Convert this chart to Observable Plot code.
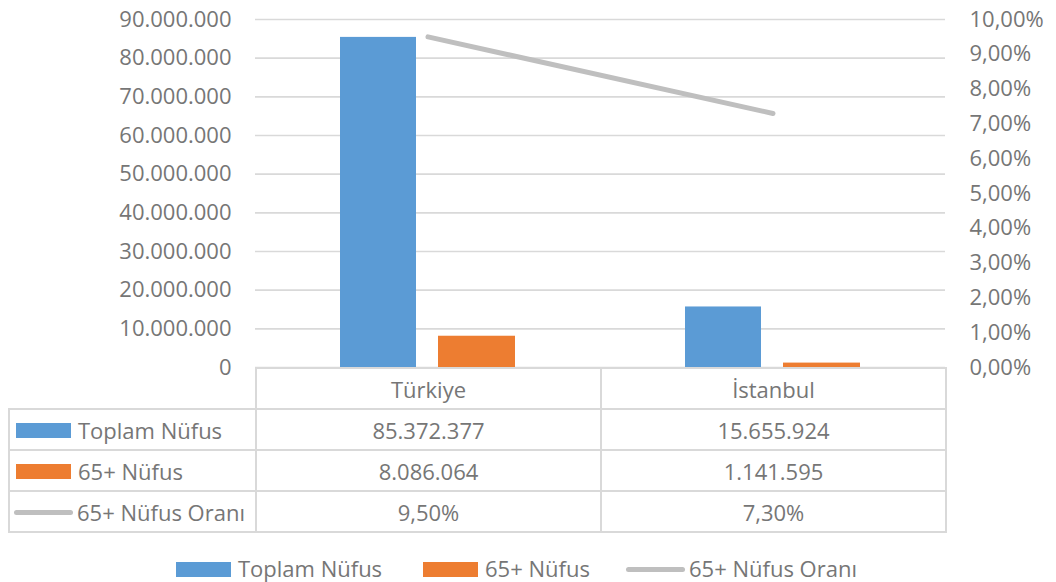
<!DOCTYPE html>
<html><head><meta charset="utf-8">
<script src="https://cdn.jsdelivr.net/npm/d3@7"></script>
<script src="https://cdn.jsdelivr.net/npm/@observablehq/plot@0.6"></script>
<style>
body{margin:0;background:#fff;}
#wrap{position:relative;width:1056px;height:582px;font-family:"Open Sans",sans-serif;color:#767676;}
#chart{position:absolute;left:0;top:0;}
table{position:absolute;left:8px;top:367px;border-collapse:collapse;font-size:22px;}
td{border:2px solid #D9D9D9;height:39px;padding:0;text-align:center;vertical-align:middle;white-space:nowrap;box-sizing:border-box;}
tr{height:41px;}
td.lab{text-align:left;width:247px;}
td.val{width:345px;}
td.blank{border-top:hidden;border-left:hidden;}
.key{display:inline-block;vertical-align:middle;margin-right:7px;position:relative;top:-2px;}
#legend{position:absolute;left:0;top:553px;width:1056px;font-size:22px;line-height:30px;}
#legend span.item{position:absolute;white-space:nowrap;}
</style></head>
<body><div id="wrap"><div id="chart"></div><table id="tbl"></table><div id="legend"></div></div>
<script>
const categories = ["Türkiye", "İstanbul"];
const seriesNames = ["Toplam Nüfus", "65+ Nüfus", "65+ Nüfus Oranı"];
const toplamNufus = [85372377, 15655924];
const nufus65 = [8086064, 1141595];
const oran65 = [9.50, 7.30];
const leftTicks = [0,10000000,20000000,30000000,40000000,50000000,60000000,70000000,80000000,90000000];
const rightTicks = [0,1,2,3,4,5,6,7,8,9,10];
const colors = ["#5B9BD5", "#ED7D31", "#BFBFBF"];

const loc = d3.formatLocale({decimal:",", thousands:".", grouping:[3], currency:["",""]});
const fmtN = loc.format(",d");
const fmtP = d => d.toFixed(2).replace(".", ",") + "%";
const pctToLeft = p => p / 10 * 90000000;

const rows = categories.map((c,i) => ({cat:c, total:toplamNufus[i], old:nufus65[i], ratio:oran65[i]}));

const chart = Plot.plot({
  width: 1056, height: 380,
  marginLeft: 255, marginRight: 111, marginTop: 19, marginBottom: 13,
  style: {fontFamily: "Open Sans", fontSize: "22px", color: "#767676", background: "transparent", overflow: "visible"},
  x: {type: "band", domain: categories, padding: 0, axis: null},
  y: {domain: [0, 90000000], axis: null},
  marks: [
    Plot.gridY(leftTicks, {stroke: "#D9D9D9", strokeOpacity: 1, strokeWidth: 1.6}),
    Plot.axisY(leftTicks, {anchor: "left", tickSize: 0, tickPadding: 24, tickFormat: fmtN, fontSize: 22, fill: "#767676"}),
    Plot.axisY(rightTicks.map(pctToLeft), {anchor: "right", tickSize: 0, tickPadding: 24, tickFormat: d => fmtP(d / 9000000), fontSize: 22, fill: "#767676"}),
    Plot.barY(rows, {x: "cat", y: "total", fill: colors[0], insetLeft: 85, insetRight: 184}),
    Plot.barY(rows, {x: "cat", y: "old", fill: colors[1], insetLeft: 183, insetRight: 85}),
    Plot.line(rows, {x: "cat", y: d => pctToLeft(d.ratio), stroke: colors[2], strokeWidth: 5, strokeLinecap: "round"})
  ]
});
document.getElementById("chart").appendChild(chart);

// data table
const keyHtml = i => i < 2
  ? `<span class="key" style="width:55px;height:15px;background:${colors[i]};margin-left:6px"></span>`
  : `<span class="key" style="width:59px;height:5px;border-radius:3px;background:${colors[2]};margin-left:4px;margin-right:4px"></span>`;
const tbl = document.getElementById("tbl");
let html = `<tr><td class="lab blank"></td>${categories.map(c => `<td class="val">${c}</td>`).join("")}</tr>`;
const vals = [toplamNufus.map(fmtN), nufus65.map(fmtN), oran65.map(fmtP)];
seriesNames.forEach((s,i) => {
  html += `<tr><td class="lab">${keyHtml(i)}${s}</td>${vals[i].map(v => `<td class="val">${v}</td>`).join("")}</tr>`;
});
tbl.innerHTML = html;

// legend
const legendX = [176, 423, 626];
document.getElementById("legend").innerHTML = seriesNames.map((s,i) => {
  const key = i < 2
    ? `<span class="key" style="width:55px;height:15px;background:${colors[i]}"></span>`
    : `<span class="key" style="width:59px;height:5px;border-radius:3px;background:${colors[2]};margin-right:4px"></span>`;
  return `<span class="item" style="left:${legendX[i]}px">${key}${s}</span>`;
}).join("");
</script></body></html>
